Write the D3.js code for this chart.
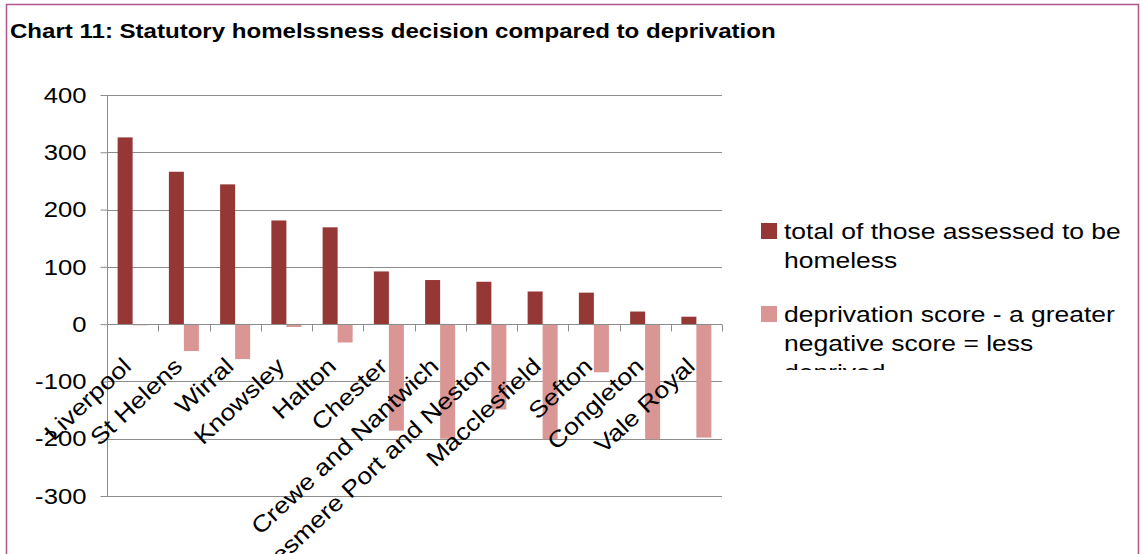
<!DOCTYPE html>
<html>
<head>
<meta charset="utf-8">
<script src="https://cdn.jsdelivr.net/npm/d3@7"></script>
<style>
  html, body { margin: 0; padding: 0; background: #fff; }
  svg { display: block; font-family: "Liberation Sans", Arial, sans-serif; }
</style>
</head>
<body>
<svg id="chart" width="1143" height="554"></svg>
<script>
// Local authorities, ordered by number assessed as homeless
const districts = [
  "Liverpool", "St Helens", "Wirral", "Knowsley", "Halton", "Chester",
  "Crewe and Nantwich", "Ellesmere Port and Neston", "Macclesfield",
  "Sefton", "Congleton", "Vale Royal"
];
const homelessTotals = [326, 266, 244, 181, 169, 92, 77, 74, 57, 55, 22, 13];
const deprivationScores = [-2, -47, -61, -5, -32, -186, -200, -149, -201, -84, -201, -198];
const yTicks = [400, 300, 200, 100, 0, -100, -200, -300];
const seriesNames = [
  ["total of those assessed to be", "homeless"],
  ["deprivation score - a greater", "negative score = less", "deprived"]
];
const seriesColors = ["#953735", "#d99694"];

const svg = d3.select("#chart");

// Outer frame
svg.append("path")
  .attr("d", "M6.5,560 V4.5 H1138.5 V560")
  .attr("fill", "none")
  .attr("stroke", "#b0568c")
  .attr("stroke-width", 1.5);

// Title, widened to the frame's wide lettering
const title = svg.append("text")
  .attr("x", 0).attr("y", 0)
  .attr("font-size", 20).attr("font-weight", "bold")
  .attr("fill", "#000")
  .text("Chart 11: Statutory homelssness decision compared to deprivation");
const titleW = title.node().getComputedTextLength();
title.attr("transform", `translate(10,38) scale(${766 / titleW},1)`);

const plotLeft = 107, plotRight = 722;
const y = d3.scaleLinear().domain([-300, 400]).range([496, 95]);
const x0 = d3.scaleBand().domain(districts).range([plotLeft, plotRight]).padding(0);
const x1 = d3.scaleBand().domain([0, 1]).range([0, x0.bandwidth()])
  .paddingInner(0).paddingOuter(0.708);

// Horizontal gridlines
svg.append("g").selectAll("line").data(yTicks).join("line")
  .attr("x1", plotLeft).attr("x2", plotRight)
  .attr("y1", d => Math.round(y(d)) + 0.5).attr("y2", d => Math.round(y(d)) + 0.5)
  .attr("stroke", "#8c8c8c").attr("stroke-width", 1);

// Value axis
const textStretch = 1.14;
const yAxis = d3.axisLeft(y).tickValues(yTicks).tickSize(7).tickPadding(11.5).tickFormat(d => String(d));
const yg = svg.append("g").attr("transform", `translate(${plotLeft + 0.5},0)`).call(yAxis);
yg.select(".domain").attr("stroke", "#8c8c8c").attr("d", `M0,${y(400)}V${y(-300)}`);
yg.selectAll(".tick line").attr("stroke", "#8c8c8c");
yg.selectAll(".tick text")
  .attr("font-size", 22.5).attr("fill", "#000")
  .attr("font-family", "Liberation Sans, Arial, sans-serif")
  .attr("transform", `scale(${textStretch},1)`);

// Bars
const groups = svg.append("g").selectAll("g").data(districts).join("g")
  .attr("transform", d => `translate(${x0(d)},0)`);

groups.append("rect")
  .attr("x", x1(0)).attr("width", x1.bandwidth())
  .attr("y", (d, i) => y(homelessTotals[i]))
  .attr("height", (d, i) => y(0) - y(homelessTotals[i]))
  .attr("fill", seriesColors[0]);

groups.append("rect")
  .attr("x", x1(1)).attr("width", x1.bandwidth())
  .attr("y", y(0))
  .attr("height", (d, i) => y(deprivationScores[i]) - y(0))
  .attr("fill", seriesColors[1]);

// Category axis crossing at zero
const zeroY = Math.round(y(0)) + 0.5;
svg.append("line")
  .attr("x1", plotLeft).attr("x2", plotRight)
  .attr("y1", zeroY).attr("y2", zeroY)
  .attr("stroke", "#8c8c8c");
const boundaries = d3.range(districts.length + 1).map(i => plotLeft + i * x0.step());
svg.append("g").selectAll("line").data(boundaries).join("line")
  .attr("x1", d => Math.round(d) + 0.5).attr("x2", d => Math.round(d) + 0.5)
  .attr("y1", zeroY).attr("y2", zeroY + 7)
  .attr("stroke", "#8c8c8c");

// Rotated category labels
svg.append("g").selectAll("text").data(districts).join("text")
  .attr("transform", d => `translate(${x0(d) + x0.bandwidth() / 2},368) rotate(-43) scale(1.16,1)`)
  .attr("text-anchor", "end")
  .attr("font-size", 23).attr("fill", "#000")
  .text(d => d);

// Legend, clipped to its box
svg.append("clipPath").attr("id", "legendClip")
  .append("rect").attr("x", 740).attr("y", 200).attr("width", 398).attr("height", 170);

const legend = svg.append("g").attr("clip-path", "url(#legendClip)");
const entryTop = [223, 306];
let legendStretch = null;
seriesNames.forEach((lines, i) => {
  legend.append("rect")
    .attr("x", 761).attr("y", entryTop[i]).attr("width", 16).attr("height", 16)
    .attr("fill", seriesColors[i]);
  const t = legend.append("text")
    .attr("x", 0).attr("y", 0)
    .attr("font-size", 22.5).attr("fill", "#000");
  lines.forEach((line, j) => {
    t.append("tspan").attr("x", 0).attr("dy", j === 0 ? 0 : 29).text(line);
  });
  if (legendStretch === null) {
    legendStretch = 337 / t.select("tspan").node().getComputedTextLength();
  }
  t.attr("transform", `translate(784,${entryTop[i] + 16}) scale(${legendStretch},1)`);
});
</script>
</body>
</html>
